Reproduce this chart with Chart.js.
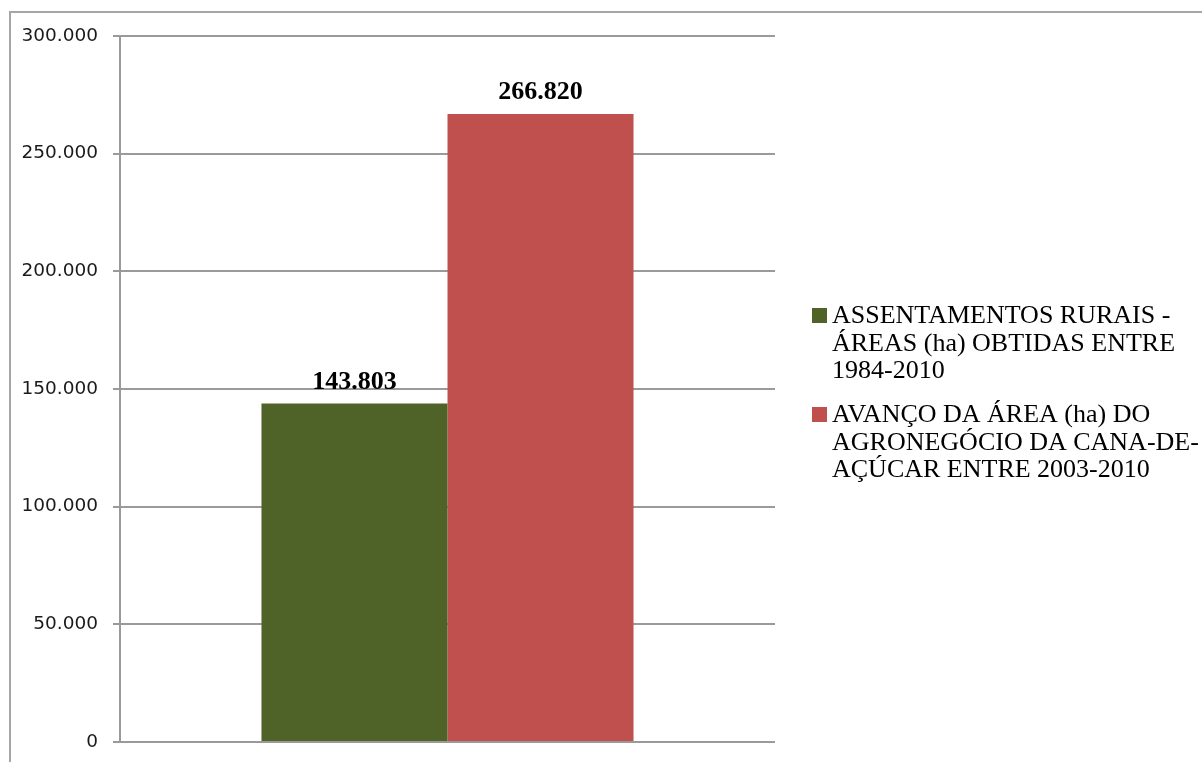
<!DOCTYPE html>
<html>
<head>
<meta charset="utf-8">
<script src="https://cdn.jsdelivr.net/npm/chart.js@4"></script>
<style>
  html, body { margin: 0; padding: 0; background: #fff; }
  #wrap { width: 1202px; height: 762px; position: relative; }
</style>
</head>
<body>
<div id="wrap"><canvas id="canvas"></canvas></div>
<script>
// single category, one bar per series
const categories = ['']
const seriesValues = [143803, 266820]
const seriesColors = ['#4F6228', '#C0504D']
const legendLines = [
    ['ASSENTAMENTOS RURAIS -', 'ÁREAS (ha) OBTIDAS ENTRE', '1984-2010'],
    ['AVANÇO DA ÁREA (ha) DO', 'AGRONEGÓCIO DA CANA-DE-', 'AÇÚCAR ENTRE 2003-2010']
]
const yTicks = [0, 50000, 100000, 150000, 200000, 250000, 300000]

// 143803 -> "143.803"
const fmt = (v) => String(v).replace(/\B(?=(\d{3})+(?!\d))/g, '.')

const gridGray = '#9a9a9a'

// outer frame line (left and top only)
const framePlugin = {
    id: 'frame',
    beforeDraw(chart) {
        const ctx = chart.ctx
        ctx.save()
        ctx.strokeStyle = '#a6a6a6'
        ctx.lineWidth = 2
        ctx.beginPath()
        ctx.moveTo(10, chart.height)
        ctx.lineTo(10, 12)
        ctx.lineTo(chart.width, 12)
        ctx.stroke()
        ctx.restore()
    }
}

// bold numbers above each bar
const valueLabels = {
    id: 'valueLabels',
    afterDatasetsDraw(chart) {
        const ctx = chart.ctx
        ctx.save()
        ctx.font = 'bold 26px "Liberation Serif", "Times New Roman", serif'
        ctx.fillStyle = '#000'
        ctx.textAlign = 'center'
        ctx.textBaseline = 'alphabetic'
        chart.data.datasets.forEach((ds, i) => {
            chart.getDatasetMeta(i).data.forEach((bar, j) => {
                ctx.fillText(fmt(ds.data[j]), bar.x, bar.y - 15)
            })
        })
        ctx.restore()
    }
}

// legend on the right with wrapped lines
const sideLegend = {
    id: 'sideLegend',
    afterDraw(chart) {
        const ctx = chart.ctx
        const x0 = 812
        let y = 323
        ctx.save()
        ctx.font = '26px "Liberation Serif", "Times New Roman", serif'
        ctx.textBaseline = 'alphabetic'
        ctx.textAlign = 'left'
        chart.data.datasets.forEach((ds, i) => {
            ctx.fillStyle = ds.backgroundColor
            ctx.fillRect(x0, y - 15, 15, 15)
            ctx.fillStyle = '#000'
            legendLines[i].forEach((line, k) => {
                ctx.fillText(line, x0 + 20, y + k * 27.5)
            })
            y += (legendLines[i].length - 1) * 27.5 + 44
        })
        ctx.restore()
    }
}

const ctx = document.querySelector('#canvas')

new Chart(ctx, {
    type: 'bar',
    data: {
        labels: categories,
        datasets: seriesValues.map((v, i) => ({
            label: legendLines[i].join(' '),
            data: [v],
            backgroundColor: seriesColors[i],
            borderWidth: 0,
            categoryPercentage: 0.568,
            barPercentage: 1
        }))
    },
    options: {
        responsive: true,
        maintainAspectRatio: false,
        animation: false,
        layout: {
            padding: { left: 0, top: 36, right: 427, bottom: 20 }
        },
        scales: {
            x: {
                display: false
            },
            y: {
                min: 0,
                max: 300000,
                afterFit: (scale) => {
                    scale.width = 120
                    scale.paddingTop = 0
                    scale.paddingBottom = 0
                },
                afterBuildTicks: (scale) => { scale.ticks = yTicks.map(v => ({ value: v })) },
                border: { display: true, color: gridGray, width: 2 },
                grid: {
                    color: gridGray,
                    lineWidth: 2,
                    drawTicks: true,
                    tickLength: 7,
                    tickColor: gridGray
                },
                ticks: {
                    color: '#1a1a1a',
                    padding: 15,
                    font: { family: '"DejaVu Sans", Verdana, sans-serif', size: 18.5 },
                    callback: (value) => fmt(value)
                }
            }
        },
        plugins: {
            legend: { display: false },
            tooltip: { enabled: false }
        }
    },
    plugins: [framePlugin, valueLabels, sideLegend]
})
</script>
</body>
</html>
